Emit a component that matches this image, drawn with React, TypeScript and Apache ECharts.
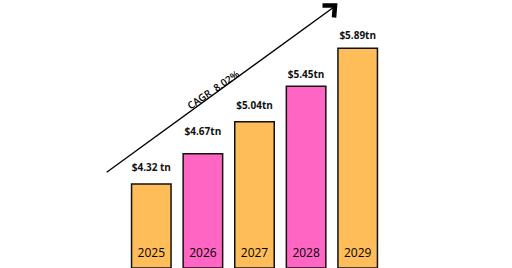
import React, { useEffect, useRef } from "react";
import * as echarts from "echarts";

const years = ["2025", "2026", "2027", "2028", "2029"];
const values = [4.32, 4.67, 5.04, 5.45, 5.89];
const valueLabels = ["$4.32 tn", "$4.67tn", "$5.04tn", "$5.45tn", "$5.89tn"];
const labelGaps = [11, 17, 11, 7, 8];
const barColors = ["#FFBD59", "#FF66C4", "#FFBD59", "#FF66C4", "#FFBD59"];
const cagrText = "CAGR  8.02%";

export default function App() {
  const ref = useRef<HTMLDivElement>(null);
  useEffect(() => {
    if (!ref.current) return;
    const chart = echarts.init(ref.current, undefined, { renderer: "svg" });
    const font = "'Open Sans', 'Noto Sans', sans-serif";
    chart.setOption({
      animation: false,
      backgroundColor: "#ffffff",
      grid: { left: 125.5, width: 258, top: 38, bottom: -2 },
      xAxis: {
        type: "category",
        data: years,
        z: 10,
        axisLine: { show: false },
        axisTick: { show: false },
        axisLabel: {
          inside: true,
          margin: 10,
          color: "#000",
          fontSize: 12,
          fontWeight: 500,
          fontFamily: font,
        },
      },
      yAxis: { type: "value", min: 3.34, max: 6, show: false, splitLine: { show: false } },
      series: [
        {
          type: "bar",
          barWidth: 41,
          data: values.map((v, i) => ({
            value: v,
            itemStyle: { color: barColors[i] },
            label: { distance: labelGaps[i] },
          })),
          itemStyle: { borderColor: "#111", borderWidth: 1.5 },
          label: {
            show: true,
            position: "top",
            color: "#111",
            fontSize: 10,
            fontWeight: "bold",
            fontFamily: font,
            formatter: (p: any) => valueLabels[p.dataIndex],
          },
        },
      ],
      graphic: [
        {
          type: "line",
          shape: { x1: 106.7, y1: 172.3, x2: 334, y2: 7 },
          style: { stroke: "#000", lineWidth: 1.4 },
          z: 20,
        },
        {
          type: "polyline",
          shape: { points: [[322.5, 5.5], [335, 5.5], [334, 17.5]] },
          style: { stroke: "#000", lineWidth: 4.6, fill: null, lineJoin: "miter" },
          z: 20,
        },
        {
          type: "text",
          x: 213,
          y: 89.5,
          rotation: 0.6,
          style: {
            text: cagrText,
            align: "center",
            verticalAlign: "middle",
            fill: "#000",
            fontSize: 10,
            fontWeight: 600,
            fontFamily: font,
          },
          z: 20,
        },
      ],
    });
    return () => chart.dispose();
  }, []);
  return (
    <div
      ref={ref}
      style={{ position: "fixed", left: 0, top: 0, width: 512, height: 268 }}
    />
  );
}
